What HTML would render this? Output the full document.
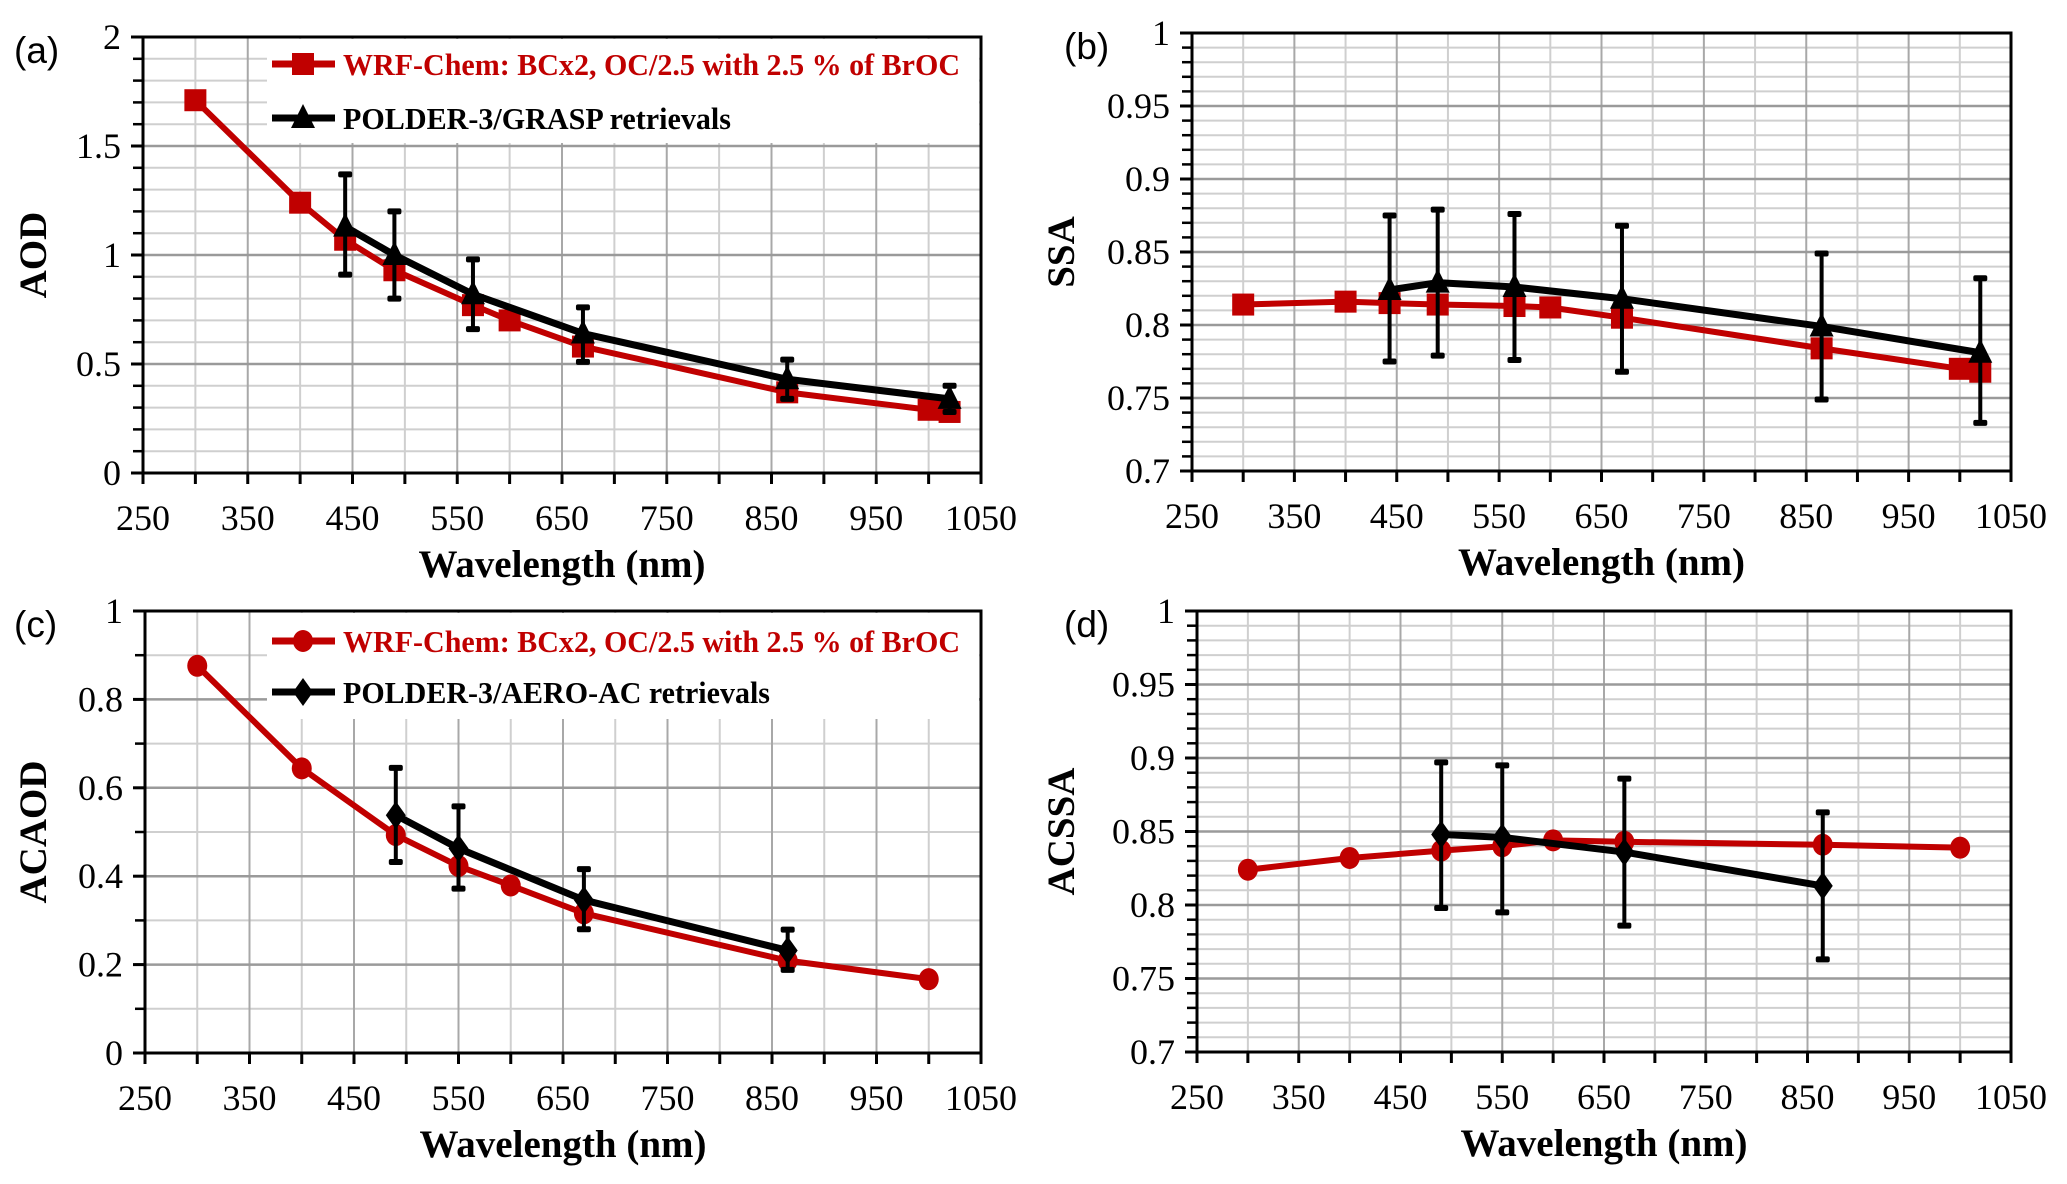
<!DOCTYPE html>
<html><head><meta charset="utf-8"><style>
html,body{margin:0;padding:0;background:#fff;}
svg{display:block;}
text{font-family:"Liberation Serif",serif;}
</style></head>
<body>
<svg id="fig" width="2067" height="1184" viewBox="0 0 2067 1184" xmlns="http://www.w3.org/2000/svg"></svg>
<script>
// ---- data ----
const aRedX=[300,400,443,490,565,600,670,865,1000,1020];
const aRedY=[1.71,1.24,1.07,0.93,0.77,0.70,0.58,0.37,0.29,0.28];
const aBlkX=[443,490,565,670,865,1020];
const aBlkY=[1.13,1.0,0.82,0.64,0.43,0.34];
const aBlkHi=[1.37,1.20,0.98,0.76,0.52,0.40];
const aBlkLo=[0.91,0.80,0.66,0.51,0.34,0.28];

const bRedX=[300,400,443,490,565,600,670,865,1000,1020];
const bRedY=[0.814,0.816,0.815,0.814,0.813,0.812,0.805,0.784,0.770,0.768];
const bBlkX=[443,490,565,670,865,1020];
const bBlkY=[0.824,0.829,0.826,0.818,0.799,0.781];
const bBlkHi=[0.875,0.879,0.876,0.868,0.849,0.832];
const bBlkLo=[0.775,0.779,0.776,0.768,0.749,0.733];

const cRedX=[300,400,490,550,600,670,865,1000];
const cRedY=[0.876,0.644,0.493,0.423,0.379,0.316,0.209,0.167];
const cBlkX=[490,550,670,865];
const cBlkY=[0.538,0.463,0.346,0.232];
const cBlkHi=[0.645,0.558,0.416,0.279];
const cBlkLo=[0.432,0.372,0.280,0.188];

const dRedX=[300,400,490,550,600,670,865,1000];
const dRedY=[0.824,0.832,0.837,0.840,0.844,0.843,0.841,0.839];
const dBlkX=[490,550,670,865];
const dBlkY=[0.848,0.846,0.836,0.813];
const dBlkHi=[0.897,0.895,0.886,0.863];
const dBlkLo=[0.798,0.795,0.786,0.763];

const xTicks=[250,350,450,550,650,750,850,950,1050];

const NS="http://www.w3.org/2000/svg";
const svg=document.getElementById('fig');
function mk(tag,attrs,parent){const e=document.createElementNS(NS,tag);for(const k in attrs)e.setAttribute(k,attrs[k]);(parent||svg).appendChild(e);return e;}

function panel(cfg){
  const g=mk('g',{});
  
  
  const L=cfg.L,R=cfg.R,T=cfg.T,B=cfg.B;
  const sx=v=>L+(v-250)/800*(R-L);
  const sy=v=>B-(v-cfg.ymin)/(cfg.ymax-cfg.ymin)*(B-T);
  // minor horizontal grid
  const nMinor=Math.round((cfg.ymax-cfg.ymin)/cfg.minor);
  for(let i=1;i<nMinor;i++){const y=sy(cfg.ymin+i*cfg.minor);
    const ln=mk('line',{x1:L,x2:R,y1:y,y2:y,stroke:'#cfcfcf','stroke-width':2},g);
    
    
    mk('line',{x1:L-10,x2:L,y1:y,y2:y,stroke:'#000','stroke-width':2.5},g);
  }
  // vertical grid
  for(let v=300;v<1050;v+=50){const x=sx(v);
    const ln=mk('line',{x1:x,x2:x,y1:T,y2:B,stroke:(v%100===50)?'#a8a8a8':'#cfcfcf','stroke-width':2},g);
    
    
  }
  // major horizontal grid + labels
  for(let i=0;i<cfg.yTicks.length;i++){const v=cfg.yTicks[i];const y=sy(v);
    if(i>0&&i<cfg.yTicks.length-1){const ln=mk('line',{x1:L,x2:R,y1:y,y2:y,stroke:'#9a9a9a','stroke-width':2.5},g);
      
      }
    mk('line',{x1:L-12,x2:L,y1:y,y2:y,stroke:'#000','stroke-width':3},g);
    const t=mk('text',{x:L-22,y:y+12,'text-anchor':'end','font-size':36},g);
    t.textContent=cfg.yLabels[i];
    
    
  }
  // legend box
  if(cfg.legend){
    const bx=mk('rect',{x:267,y:T+2,width:R-267-2,height:cfg.legendH,fill:'#fff'},g);
    
    
  }
  // axes frame
  mk('rect',{x:L,y:T,width:R-L,height:B-T,fill:'none',stroke:'#000','stroke-width':3},g);
  for(let v=250;v<=1050;v+=50){const x=sx(v);mk('line',{x1:x,x2:x,y1:B,y2:B+11,stroke:'#000','stroke-width':3},g);}
  for(let i=0;i<xTicks.length;i++){const t=mk('text',{x:sx(xTicks[i]),y:B+57,'text-anchor':'middle','font-size':36},g);
    t.textContent=String(xTicks[i]);
    
    }
  const xt=mk('text',{x:(L+R)/2,y:B+104,'text-anchor':'middle','font-size':39,'font-weight':'bold'},g);
  xt.textContent='Wavelength (nm)';
  
  
  const yt=mk('text',{x:0,y:0,'text-anchor':'middle','font-size':39,'font-weight':'bold',transform:`translate(${cfg.ytX},${(T+B)/2}) rotate(-90)`},g);
  yt.textContent=cfg.ytitle;
  
  
  const pl=mk('text',{x:cfg.plX,y:T+26,'font-size':37,style:'font-family:"Liberation Sans",sans-serif'},g);
  pl.textContent=cfg.plabel;
  
  

  function marker(kind,x,y,color,parent){
    let e;
    if(kind==='square') e=mk('rect',{x:x-11,y:y-11,width:22,height:22,fill:color},parent);
    else if(kind==='tri') e=mk('polygon',{points:`${x},${y-14} ${x-12},${y+10} ${x+12},${y+10}`,fill:color},parent);
    else if(kind==='circle') e=mk('ellipse',{cx:x,cy:y,rx:10,ry:11,fill:color},parent);
    else e=mk('polygon',{points:`${x},${y-14} ${x+10},${y} ${x},${y+14} ${x-10},${y}`,fill:color},parent);
    return e;
  }
  // red series
  const rs=mk('g',{},g);
  
  
  mk('polyline',{points:cfg.rx.map((v,i)=>sx(v)+','+sy(cfg.ry[i])).join(' '),fill:'none',stroke:'#c00000','stroke-width':6,'stroke-linejoin':'round'},rs);
  cfg.rx.forEach((v,i)=>{const m=marker(cfg.rm,sx(v),sy(cfg.ry[i]),'#c00000',rs);
    
    });
  // black series
  const bs=mk('g',{},g);
  
  
  mk('polyline',{points:cfg.bx.map((v,i)=>sx(v)+','+sy(cfg.by[i])).join(' '),fill:'none',stroke:'#000','stroke-width':7,'stroke-linejoin':'round'},bs);
  cfg.bx.forEach((v,i)=>{const x=sx(v);
    const eb=mk('line',{x1:x,x2:x,y1:sy(cfg.bhi[i]),y2:sy(cfg.blo[i]),stroke:'#000','stroke-width':4},bs);
    
    
    mk('rect',{x:x-7,y:sy(cfg.bhi[i])-3,width:14,height:6,rx:2,fill:'#000'},bs);
    mk('rect',{x:x-7,y:sy(cfg.blo[i])-3,width:14,height:6,rx:2,fill:'#000'},bs);
    const m=marker(cfg.bm,x,sy(cfg.by[i]),'#000',bs);
    
    });
  // legend entries
  if(cfg.legend){
    const y1=T+cfg.ly1,y2=T+cfg.ly2;
    mk('line',{x1:272,x2:335,y1:y1,y2:y1,stroke:'#c00000','stroke-width':7},g);
    marker(cfg.rm,303,y1,'#c00000',g);
    const t1=mk('text',{x:343,y:y1+11,'font-size':31,'font-weight':'bold',fill:'#c00000',textLength:617,lengthAdjust:'spacingAndGlyphs'},g);
    t1.textContent=cfg.leg1;
    
    
    mk('line',{x1:272,x2:335,y1:y2,y2:y2,stroke:'#000','stroke-width':7},g);
    marker(cfg.bm,303,y2,'#000',g);
    const t2=mk('text',{x:343,y:y2+11,'font-size':31,'font-weight':'bold',fill:'#000',textLength:cfg.leg2W,lengthAdjust:'spacingAndGlyphs'},g);
    t2.textContent=cfg.leg2;
    
    
  }
}
panel({name:'panel-a-aod',L:143,R:981,T:37,B:473,ymin:0,ymax:2,minor:0.1,yTicks:[0,0.5,1,1.5,2],yLabels:['0','0.5','1','1.5','2'],
  ytitle:'AOD',ytX:46,plX:14,plabel:'(a)',rx:aRedX,ry:aRedY,bx:aBlkX,by:aBlkY,bhi:aBlkHi,blo:aBlkLo,rm:'square',bm:'tri',
  legend:true,legendH:104,ly1:27,ly2:81,leg1:'WRF-Chem: BCx2, OC/2.5 with 2.5 % of BrOC',leg2:'POLDER-3/GRASP retrievals',leg2W:388});
panel({name:'panel-b-ssa',L:1192,R:2011,T:33,B:471,ymin:0.7,ymax:1,minor:0.01,yTicks:[0.7,0.75,0.8,0.85,0.9,0.95,1],yLabels:['0.7','0.75','0.8','0.85','0.9','0.95','1'],
  ytitle:'SSA',ytX:1074,plX:1064,plabel:'(b)',rx:bRedX,ry:bRedY,bx:bBlkX,by:bBlkY,bhi:bBlkHi,blo:bBlkLo,rm:'square',bm:'tri',legend:false});
panel({name:'panel-c-acaod',L:145,R:981,T:611,B:1053,ymin:0,ymax:1,minor:0.1,yTicks:[0,0.2,0.4,0.6,0.8,1],yLabels:['0','0.2','0.4','0.6','0.8','1'],
  ytitle:'ACAOD',ytX:46,plX:14,plabel:'(c)',rx:cRedX,ry:cRedY,bx:cBlkX,by:cBlkY,bhi:cBlkHi,blo:cBlkLo,rm:'circle',bm:'diamond',
  legend:true,legendH:106,ly1:30,ly2:81,leg1:'WRF-Chem: BCx2, OC/2.5 with 2.5 % of BrOC',leg2:'POLDER-3/AERO-AC retrievals',leg2W:427});
panel({name:'panel-d-acssa',L:1197,R:2011,T:611,B:1052,ymin:0.7,ymax:1,minor:0.01,yTicks:[0.7,0.75,0.8,0.85,0.9,0.95,1],yLabels:['0.7','0.75','0.8','0.85','0.9','0.95','1'],
  ytitle:'ACSSA',ytX:1074,plX:1064,plabel:'(d)',rx:dRedX,ry:dRedY,bx:dBlkX,by:dBlkY,bhi:dBlkHi,blo:dBlkLo,rm:'circle',bm:'diamond',legend:false});
</script>
</body></html>
